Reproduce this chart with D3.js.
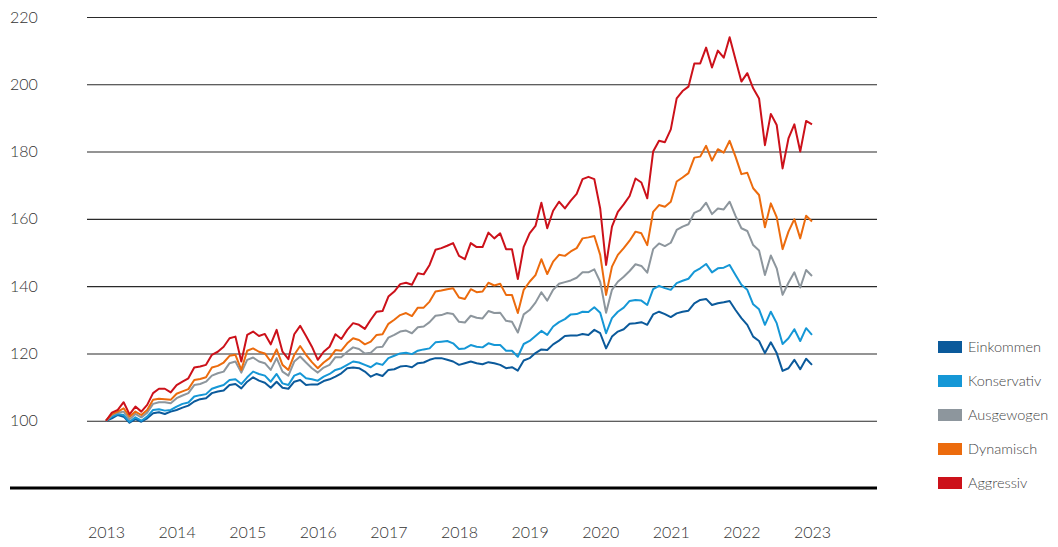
<!DOCTYPE html>
<html>
<head>
<meta charset="utf-8">
<script src="https://cdn.jsdelivr.net/npm/d3@7"></script>
<style>
  body { margin: 0; background: #fff; }
  text { font-family: Lato, 'Open Sans', sans-serif; font-weight: 300; fill: #333; }
</style>
</head>
<body>
<script>
// monthly index values, Jan 2013 = 100
let einkommen = [100,100.7,101.7,101.2,99.4,100.5,99.7,100.7,102.2,102.5,102.0,102.7,
  103.2,103.9,104.5,105.7,106.4,106.7,108.2,108.7,109.0,110.6,110.9,109.6,
  111.6,112.9,111.9,111.3,109.8,111.6,109.8,109.5,111.6,112.1,110.6,110.8,
  110.8,111.8,112.3,113.1,114.1,115.6,115.8,115.6,114.6,113.1,113.9,113.3,
  115.1,115.3,116.1,116.3,115.9,117.1,117.3,118.1,118.6,118.6,118.1,117.6,
  116.6,117.1,117.6,117.1,116.8,117.4,117.1,116.6,115.6,115.9,114.9,117.9,
  118.6,120.1,121.2,121.0,122.7,123.8,125.2,125.3,125.3,125.8,125.5,127.0,
  126.0,121.5,125.0,126.5,127.2,128.8,129.0,129.3,128.5,131.6,132.4,131.7,
  130.8,131.9,132.4,132.7,134.9,135.9,136.2,134.4,134.9,135.2,135.6,132.9,
  130.5,128.5,125.0,123.7,120.1,123.3,120.1,114.8,115.6,118.1,115.3,118.4,116.6]

let konservativ = [100,101.2,102.0,101.7,99.7,101.0,100.0,101.2,103.2,103.4,103.0,103.2,
  104.2,105.0,105.4,107.2,107.6,107.9,109.5,110.1,110.6,112.1,112.3,110.9,
  112.9,114.6,113.9,113.4,111.6,113.9,111.1,110.6,113.4,114.1,112.6,112.3,
  111.9,113.1,113.9,115.1,115.6,116.6,117.6,117.3,116.6,115.9,117.1,116.6,
  118.6,119.3,120.0,120.2,119.8,120.8,121.2,121.5,123.3,123.5,123.7,123.0,
  121.3,121.5,122.5,122.0,121.8,123.0,122.5,122.5,120.8,120.8,119.0,122.8,
  123.7,125.2,126.7,125.5,128.0,129.3,130.2,131.6,131.7,132.4,132.3,133.7,
  132.1,126.0,130.5,132.4,133.6,135.6,135.9,135.7,134.4,139.1,140.1,139.4,
  138.9,140.9,141.6,142.2,144.3,145.3,146.6,144.1,145.3,145.5,146.3,143.3,
  140.4,138.9,134.6,133.1,128.5,132.4,129.0,122.8,124.5,127.2,123.7,127.5,125.5]

let ausgewogen = [100,101.7,102.4,102.7,100.4,102.0,101.0,102.4,105.0,105.5,105.5,105.2,
  106.7,107.5,108.2,110.6,110.9,111.6,113.4,114.1,114.6,117.1,117.6,114.3,
  118.1,118.8,117.6,117.1,115.1,118.6,114.6,113.4,117.6,119.1,117.3,115.6,
  114.3,115.8,116.6,118.9,118.9,120.5,121.8,121.3,120.0,120.2,121.8,122.0,
  124.7,125.5,126.5,126.8,126.0,127.8,128.0,129.3,131.2,131.4,132.0,131.7,
  129.4,129.2,131.2,130.6,130.4,132.6,132.0,132.1,129.7,129.4,126.2,131.6,
  132.9,135.1,138.2,135.7,138.9,140.7,141.2,141.7,142.5,144.1,144.1,145.0,
  141.3,132.1,138.9,141.3,142.8,144.5,146.5,146.0,144.0,151.0,152.7,151.9,
  152.9,156.7,157.7,158.4,161.8,162.6,164.8,161.4,163.1,162.8,165.1,160.9,
  157.2,156.4,152.2,150.6,143.3,149.1,145.3,137.4,141.0,144.1,139.6,144.8,143.0]

let dynamisch = [100,102.0,102.7,103.7,101.2,102.7,101.7,103.2,106.2,106.5,106.4,106.2,
  108.0,108.7,109.4,112.1,112.4,112.9,115.8,116.3,117.3,119.3,119.6,115.1,
  120.8,121.5,120.5,120.0,117.6,121.2,116.6,115.1,119.6,122.2,119.6,117.4,
  115.6,117.3,118.6,121.0,120.8,123.0,124.5,124.0,122.7,123.5,125.5,125.7,
  128.8,130.0,131.4,132.0,131.1,133.6,133.6,135.4,138.4,138.7,139.1,139.4,
  136.6,136.2,139.1,138.2,138.4,141.0,140.2,140.7,137.4,137.4,132.0,138.9,
  141.3,143.3,148.0,143.6,147.3,149.3,149.0,150.3,151.3,154.2,154.5,154.9,
  149.3,137.4,145.8,149.3,151.3,153.5,156.2,155.7,152.2,162.1,164.1,163.6,
  165.1,171.1,172.3,173.6,178.2,178.5,181.7,177.3,180.7,179.7,183.2,178.5,
  173.3,173.7,169.1,167.1,157.5,164.6,160.5,151.0,156.2,159.9,154.2,160.9,159.2]

let aggressiv = [100,102.4,103.2,105.5,101.9,104.2,102.7,104.7,108.2,109.5,109.5,108.4,
  110.6,111.6,112.6,115.8,116.1,116.6,119.6,120.5,122.0,124.5,125.0,117.6,
  125.5,126.5,125.2,125.8,122.7,127.0,120.5,118.3,125.7,128.2,125.2,122.0,
  118.1,120.5,122.0,125.7,124.3,127.0,129.0,128.5,127.3,130.0,132.4,132.6,
  136.9,138.4,140.6,141.0,140.4,143.8,143.5,146.3,150.8,151.3,152.0,152.8,
  149.0,148.0,152.8,151.6,151.6,155.9,154.2,155.7,151.0,151.0,142.1,151.7,
  155.7,157.9,164.8,157.2,162.4,165.1,163.1,165.4,167.4,171.8,172.5,171.8,
  163.1,146.3,157.7,162.1,164.3,166.8,172.0,170.8,166.1,180.0,183.2,182.8,
  186.6,195.8,198.0,199.3,206.2,206.2,210.9,205.0,210.0,207.9,214.0,207.4,
  200.8,203.3,198.8,195.8,181.9,191.2,187.9,175.0,183.9,188.1,180.0,189.1,188.1]

let names = ['Einkommen', 'Konservativ', 'Ausgewogen', 'Dynamisch', 'Aggressiv']
let colors = ['#0b5a9b', '#1597d6', '#8d969d', '#ec6b0d', '#cc111a']
let years = d3.range(2013, 2024)
let yTicks = [100, 120, 140, 160, 180, 200, 220]

let series = [einkommen, konservativ, ausgewogen, dynamisch, aggressiv]

let width = 1058
let height = 547

let x = d3.scaleLinear()
  .domain([2013, 2023])
  .range([106, 812])

let y = d3.scaleLinear()
  .domain([80, 220])
  .range([488, 17])

let svg = d3.select('body').append('svg')
  .attr('width', width)
  .attr('height', height)

// grid + y labels
let axis_y = svg.append('g')
  .attr('class', 'axis y')
  .attr('transform', 'translate(87,0)')
  .call(d3.axisLeft(y)
    .tickValues(yTicks)
    .tickSize(-(877 - 87))
    .tickFormat(d3.format('d')))

axis_y.select('.domain').remove()
axis_y.selectAll('line')
  .attr('stroke', '#2a2a2a')
  .attr('stroke-width', 1.1)
axis_y.selectAll('text')
  .attr('x', -77)
  .attr('text-anchor', 'start')
  .style('font-size', '16px')
  .style('fill', '#333')

// x labels
let axis_x = svg.append('g')
  .attr('class', 'axis x')
  .attr('transform', 'translate(0,488)')
  .call(d3.axisBottom(x)
    .tickValues(years)
    .tickSize(0)
    .tickFormat(d3.format('d')))

axis_x.select('.domain').remove()
axis_x.selectAll('text')
  .attr('y', 39)
  .style('font-size', '16px')
  .style('fill', '#333')

// baseline
svg.append('line')
  .attr('x1', 10)
  .attr('x2', 877)
  .attr('y1', y(80))
  .attr('y2', y(80))
  .attr('stroke', '#000')
  .attr('stroke-width', 3)

let line = d3.line()
  .x((d, i) => x(2013 + i / 12))
  .y((d) => y(d))

svg.append('g')
  .selectAll('path')
  .data(series)
  .enter().append('path')
    .attr('d', line)
    .attr('fill', 'none')
    .attr('stroke', (d, i) => colors[i])
    .attr('stroke-width', 2)
    .attr('stroke-linejoin', 'round')

// legend
let legend = svg.append('g')
  .attr('transform', 'translate(938,347)')

let item = legend.selectAll('g')
  .data(names)
  .enter().append('g')
    .attr('transform', (d, i) => 'translate(0,' + i * 34 + ')')

item.append('rect')
  .attr('y', -6)
  .attr('width', 24)
  .attr('height', 12)
  .attr('fill', (d, i) => colors[i])

item.append('text')
  .attr('x', 30)
  .attr('dy', '0.35em')
  .style('font-size', '14.5px')
  .style('fill', '#444')
  .text((d) => d)
</script>
</body>
</html>
